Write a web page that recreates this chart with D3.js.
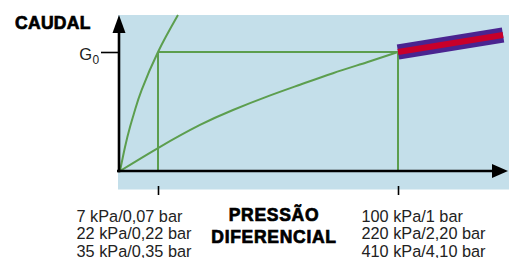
<!DOCTYPE html>
<html><head><meta charset="utf-8">
<script src="https://cdn.jsdelivr.net/npm/d3@7"></script>
<style>
html,body{margin:0;padding:0;background:#fff;}
svg{display:block;}
text{font-family:"Liberation Sans",Arial,Helvetica,sans-serif;}
</style></head>
<body>
<script>
// ---- data (chart units: pressure relative to first tick, flow relative to G0) ----
const steepX = [0, 0.132, 0.263, 0.395, 0.571, 1.0, 1.526];
const steepY = [0, 0.202, 0.370, 0.513, 0.681, 1.0, 1.311];
const shallowX = [0, 1.0, 2.105, 2.974, 3.868, 4.737, 5.605, 6.5, 7.316];
const shallowY = [0, 0.193, 0.387, 0.513, 0.625, 0.725, 0.822, 0.914, 1.0];
const bandX = [7.316, 10.08];
const bandY = [1.0, 1.143];
const tickValues = [1.0, 7.316];
const g0Value = 1.0;
const lowLabels = ["7 kPa/0,07 bar", "22 kPa/0,22 bar", "35 kPa/0,35 bar"];
const highLabels = ["100 kPa/1 bar", "220 kPa/2,20 bar", "410 kPa/4,10 bar"];
const yTitle = "CAUDAL";
const xTitle = ["PRESSÃO", "DIFERENCIAL"];

const W = 509, H = 258;
const svg = d3.select("body").append("svg").attr("width", W).attr("height", H);

const x = d3.scaleLinear().domain([0, 10]).range([120, 500]);
const y = d3.scaleLinear().domain([0, 1.3]).range([171, 16.3]);

const green = "#5c9e4e";

// background panel
svg.append("rect").attr("x", 118).attr("y", 15).attr("width", W - 118).attr("height", 174.5)
  .attr("fill", "#c4dfea");

// guide lines
const g0y = y(g0Value);
svg.append("line").attr("x1", x(tickValues[0])).attr("x2", x(tickValues[1]))
  .attr("y1", g0y).attr("y2", g0y).attr("stroke", green).attr("stroke-width", 2);
tickValues.forEach(v => {
  svg.append("line").attr("x1", x(v)).attr("x2", x(v)).attr("y1", g0y).attr("y2", y(0))
    .attr("stroke", green).attr("stroke-width", 2);
});

// curves
const line = d3.line().x(d => x(d[0])).y(d => y(d[1])).curve(d3.curveNatural);
svg.append("path").datum(steepX.map((v, i) => [v, steepY[i]]))
  .attr("d", line).attr("fill", "none").attr("stroke", green).attr("stroke-width", 2);
svg.append("path").datum(shallowX.map((v, i) => [v, shallowY[i]]))
  .attr("d", line).attr("fill", "none").attr("stroke", green).attr("stroke-width", 2);

// band
const bandPts = bandX.map((v, i) => [v, bandY[i]]);
const lin = d3.line().x(d => x(d[0])).y(d => y(d[1]));
svg.append("path").datum(bandPts).attr("d", lin).attr("stroke", "#4a2490")
  .attr("stroke-width", 15).attr("fill", "none").attr("stroke-linecap", "butt");
svg.append("path").datum(bandPts).attr("d", lin).attr("stroke", "#c8002a")
  .attr("stroke-width", 6).attr("fill", "none").attr("stroke-linecap", "butt");

// axes lines with arrows
const ox = 119, oy = y(0);
svg.append("line").attr("x1", 117).attr("x2", 494).attr("y1", oy).attr("y2", oy)
  .attr("stroke", "#000").attr("stroke-width", 2.6);
svg.append("path").attr("d", `M492,${oy - 7}L508,${oy}L492,${oy + 7}Z`).attr("fill", "#000");
svg.append("line").attr("x1", ox).attr("x2", ox).attr("y1", oy + 1.3).attr("y2", 31)
  .attr("stroke", "#000").attr("stroke-width", 2.6);
svg.append("path").attr("d", `M${ox - 6.5},33L${ox},15L${ox + 6.5},33Z`).attr("fill", "#000");

// y tick (G0)
const yAxis = d3.axisLeft(y).tickValues([g0Value]).tickSize(17).tickFormat("");
const ya = svg.append("g").attr("transform", `translate(${ox - 1},0)`).call(yAxis);
ya.select(".domain").remove();
ya.selectAll(".tick line").attr("stroke", "#000").attr("stroke-width", 1.6);
svg.append("text").attr("x", 92).attr("y", g0y + 7.5).attr("text-anchor", "end")
  .attr("font-size", 16.5).attr("fill", "#222").text("G");
svg.append("text").attr("x", 92.5).attr("y", g0y + 12).attr("font-size", 12).attr("fill", "#222").text("0");

// x ticks
const xAxis = d3.axisBottom(x).tickValues(tickValues).tickSize(9).tickFormat("");
const xa = svg.append("g").attr("transform", `translate(0,186)`).call(xAxis);
xa.select(".domain").remove();
xa.selectAll(".tick line").attr("stroke", "#000").attr("stroke-width", 1.6);

// tick label blocks
function block(lines, x0) {
  const t = svg.append("text").attr("font-size", 16.3).attr("fill", "#222");
  lines.forEach((s, i) => t.append("tspan").attr("x", x0).attr("y", 221.5 + i * 17.5).text(s));
}
block(lowLabels, 76.5);
block(highLabels, 361.5);

// titles
svg.append("text").attr("x", 15).attr("y", 29).attr("font-size", 17.5).attr("font-weight", "bold")
  .attr("fill", "#000").attr("stroke", "#000").attr("stroke-width", 0.7).attr("letter-spacing", 0.3).text(yTitle);
const xt = svg.append("text").attr("font-size", 17.5).attr("font-weight", "bold")
  .attr("fill", "#000").attr("stroke", "#000").attr("stroke-width", 0.7)
  .attr("text-anchor", "middle").attr("letter-spacing", 0.7);
xTitle.forEach((s, i) => xt.append("tspan").attr("x", 274).attr("y", 221 + i * 22).text(s));
</script>
</body></html>
